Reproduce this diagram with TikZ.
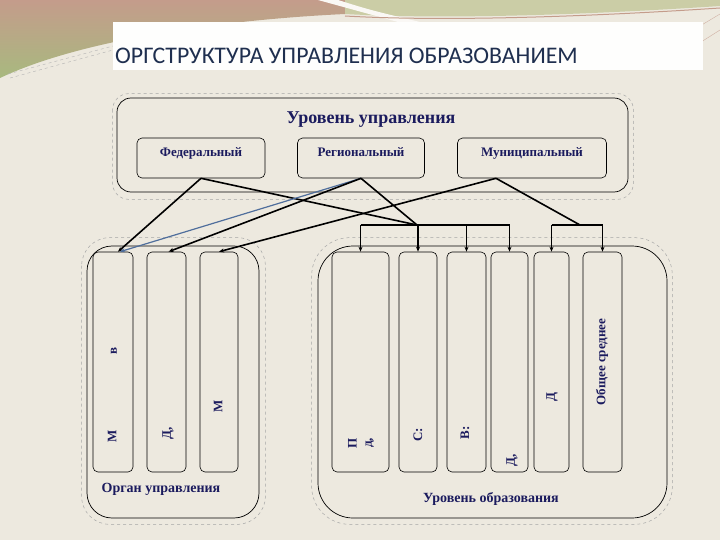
\documentclass[tikz,border=0pt]{standalone}
\usepackage{fontspec}
\setmainfont{Liberation Serif}
\newfontfamily\titlefont{Carlito}
\usetikzlibrary{positioning,arrows.meta}
\definecolor{bgbeige}{HTML}{EDE9DF}
\definecolor{navytext}{HTML}{1B1B5E}
\definecolor{titleblue}{HTML}{1F2F4F}
\definecolor{rosebrown}{HTML}{C49C8B}
\definecolor{sagegreen}{HTML}{A8B97F}
\definecolor{palegreen}{HTML}{CBCDA6}
\definecolor{linkblue}{HTML}{4F6E9C}
\begin{document}
\begin{tikzpicture}[x=1pt, y=-1pt, >={Stealth[length=5pt,width=4pt]},
    levelbox/.style={draw, line width=0.7pt, inner sep=0pt},
    shadowline/.style={draw=gray!70, dashed, line width=0.5pt},
    subbox/.style={draw, rounded corners=5pt, line width=0.6pt, minimum height=40, inner sep=0pt},
    colbox/.style={draw, rounded corners=5pt, line width=0.6pt, minimum height=220, inner sep=0pt},
    boldlbl/.style={font=\bfseries\fontsize{14}{16}\selectfont, text=navytext, inner sep=1pt},
    sublbl/.style={boldlbl, font=\bfseries\fontsize{13}{15}\selectfont, anchor=base},
    sidelbl/.style={boldlbl, font=\bfseries\fontsize{13}{15}\selectfont, rotate=90},
    link/.style={line width=1.6pt},
    bluelink/.style={->, line width=1.2pt, linkblue},
    bar/.style={line width=1.8pt}]
    \useasboundingbox (0,0) rectangle (720,540);

    % 1. фон слайда
    \fill[bgbeige] (0,0) rectangle (720,540);
    \shade[top color=rosebrown, bottom color=sagegreen] (0,0) -- (345,0) -- (345,14) .. controls (220,20) and (80,40) .. (0,78) -- cycle;
    \fill[palegreen] (345,0) -- (720,0) -- (720,6) .. controls (600,14) and (450,20) .. (345,14) -- cycle;
    \fill[white!70!bgbeige] (318,0) -- (338,0) .. controls (370,10) .. (420,22) -- (398,22) -- cycle;
    \draw[rosebrown, line width=1pt] (345,16) .. controls (450,22) and (600,16) .. (720,8);
    \draw[gray!60, dashed, thin] (8,74) -- (113,46);
    \draw[gray!60, dashed, thin] (10,78) -- (113,50);
    \draw[rosebrown!80, thin] (640,62) -- (720,14);
    \draw[rosebrown!80, thin] (660,68) -- (720,30);

    % 2. заголовок
    \fill[white!95!bgbeige] (113,22) rectangle (703,70);
    \node[anchor=west, inner sep=0pt, text=titleblue, font=\titlefont\fontsize{23.8}{26}\selectfont] (title) at (115,56) {ОРГСТРУКТУРА УПРАВЛЕНИЯ ОБРАЗОВАНИЕМ};

    % 3. уровень управления
    \node[levelbox, rounded corners=14pt, minimum width=511, minimum height=94] (upr) at (372.5,145) {};
    \draw[shadowline, rounded corners=16pt] ([shift={(-4,-4)}]upr.north west) rectangle ([shift={(5,7)}]upr.south east);
    \node[boldlbl, font=\bfseries\fontsize{18}{20}\selectfont, anchor=base] (uprlbl) at (371,124) {Уровень управления};
    \node[subbox, minimum width=128] (fed) at (201,158) {};
    \node[subbox, minimum width=127] (reg) at (361,158) {};
    \node[subbox, minimum width=149] (mun) at (532,158) {};
    \node[sublbl] (fedlbl) at (201,157) {Федеральный};
    \node[sublbl] (reglbl) at (361,157) {Региональный};
    \node[sublbl] (munlbl) at (532,157) {Муниципальный};

    % 4. орган управления
    \node[levelbox, rounded corners=25pt, minimum width=172, minimum height=272] (org) at (173,382) {};
    \draw[shadowline, rounded corners=28pt] ([shift={(-5,-8)}]org.north west) rectangle ([shift={(6,6)}]org.south east);
    \node[colbox, minimum width=40] (lcol1) at (113,362) {};
    \node[colbox, minimum width=39] (lcol2) at (166.5,362) {};
    \node[colbox, minimum width=38] (lcol3) at (219,362) {};
    \node[sidelbl] (lcol1a) at (114,351) {в};
    \node[sidelbl] (lcol1b) at (112,436) {М};
    \node[sidelbl] (lcol2a) at (168,433) {Д,};
    \node[sidelbl] (lcol3a) at (218,406) {М};
    \node[boldlbl, anchor=base] (orglbl) at (161,492) {Орган управления};

    % 5. уровень образования
    \node[levelbox, rounded corners=35pt, minimum width=349, minimum height=272] (obr) at (492.5,382) {};
    \draw[shadowline, rounded corners=38pt] ([shift={(-6,-8)}]obr.north west) rectangle ([shift={(5,6)}]obr.south east);
    \node[colbox, minimum width=57] (rcol1) at (360.5,362) {};
    \node[colbox, minimum width=38] (rcol2) at (418,362) {};
    \node[colbox, minimum width=39] (rcol3) at (466.5,362) {};
    \node[colbox, minimum width=37] (rcol4) at (509.5,362) {};
    \node[colbox, minimum width=35] (rcol5) at (551.5,362) {};
    \node[colbox, minimum width=39] (rcol6) at (602.5,362) {};
    \node[sidelbl, align=center] (rcol1a) at (361,443) {П\\ д,};
    \node[sidelbl] (rcol2a) at (418,435) {С:};
    \node[sidelbl] (rcol3a) at (465,433) {В:};
    \node[sidelbl] (rcol4a) at (512,460) {Д,};
    \node[sidelbl] (rcol5a) at (552,397) {Д};
    \node[sidelbl] (rcol6a) at (602,362) {Общее среднее};
    \node[boldlbl, anchor=base] (obrlbl) at (491,502) {Уровень образования};

    % 6. связи
    \coordinate (munout) at ([xshift=-36pt]mun.south);
    \coordinate (j1) at (417,225);
    \coordinate (j2) at (580,225);
    \draw[link, ->] (fed.south) -- ([xshift=5pt]lcol1.north);
    \draw[link] (fed.south) -- (j1);
    \draw[link] (reg.south) -- (j1);
    \draw[bluelink] (reg.south) -- ([xshift=7pt]lcol1.north);
    \draw[link, ->] (reg.south) -- ([xshift=2pt]lcol2.north);
    \draw[link, ->] (munout) -- (lcol3.north);
    \draw[link] (munout) -- (j2);
    \draw[bar] (rcol1.north |- j1) -- (rcol4.north |- j1);
    \draw[bar] (rcol5.north |- j2) -- (rcol6.north |- j2);
    \foreach \c/\j/\w in {rcol1/j1/1.8pt, rcol2/j1/1.8pt, rcol3/j1/1.1pt, rcol4/j1/1.1pt, rcol5/j2/1.1pt, rcol6/j2/1.1pt}
      \draw[->, line width=\w] (\c.north |- \j) -- (\c.north);
\end{tikzpicture}
\end{document}
